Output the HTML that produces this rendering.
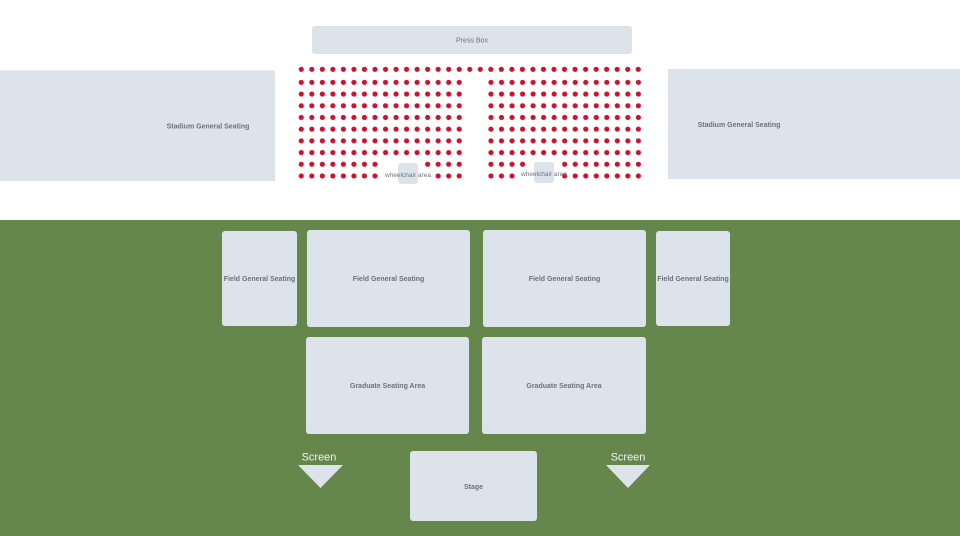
<!DOCTYPE html>
<html><head><meta charset="utf-8"><style>
html,body{margin:0;padding:0;background:#fff;}
svg{display:block;}
text{font-family:"Liberation Sans",sans-serif;}
.l{font-size:7px;fill:#6b7280;font-weight:bold;text-anchor:middle;}
.b{fill:#dce3ea;}
</style></head><body>
<svg width="960" height="536" viewBox="0 0 960 536" xmlns="http://www.w3.org/2000/svg">
<defs>
<pattern id="d" x="296" y="76.5" width="10.53" height="11.7" patternUnits="userSpaceOnUse"><circle cx="5.27" cy="5.85" r="2.6" fill="#d0102c"/></pattern>
<pattern id="d2" x="485.7" y="76.5" width="10.53" height="11.7" patternUnits="userSpaceOnUse"><circle cx="5.27" cy="5.85" r="2.6" fill="#d0102c"/></pattern>
<pattern id="t" x="296" y="64" width="10.53" height="11" patternUnits="userSpaceOnUse"><circle cx="5.27" cy="5.3" r="2.6" fill="#d0102c"/></pattern>
</defs>
<rect x="0" y="0" width="960" height="536" fill="#fff"/>
<rect class="b" x="312" y="26" width="320" height="28" rx="3"/>
<text class="l" x="472" y="42.5" style="font-weight:normal">Press Box</text>
<rect class="b" x="0" y="70.5" width="275" height="110.5"/>
<text class="l" x="208" y="128.5">Stadium General Seating</text>
<rect class="b" x="668" y="69" width="292" height="110"/>
<text class="l" x="739" y="127">Stadium General Seating</text>
<rect x="296" y="64" width="348" height="11" fill="url(#t)"/>
<rect x="296" y="76.5" width="170" height="105.3" fill="url(#d)"/>
<rect x="485.7" y="76.5" width="158" height="105.3" fill="url(#d2)"/>
<rect x="380" y="158" width="42" height="12" fill="#fff"/>
<rect x="380" y="170" width="52" height="12" fill="#fff"/>
<rect x="527" y="158" width="33" height="12" fill="#fff"/>
<rect x="517" y="170" width="43" height="12" fill="#fff"/>
<rect class="b" x="398" y="163" width="20" height="21" rx="3"/>
<rect class="b" x="534" y="162" width="20" height="21" rx="3"/>
<text x="408" y="177" style="font-size:6.5px;fill:#6b7280;text-anchor:middle">wheelchair area</text>
<text x="544" y="176" style="font-size:6.5px;fill:#6b7280;text-anchor:middle">wheelchair area</text>
<rect x="0" y="220" width="960" height="316" fill="#66874c"/>
<rect class="b" x="222" y="231" width="75" height="95" rx="3"/>
<text class="l" x="259.5" y="281">Field General Seating</text>
<rect class="b" x="307" y="230" width="163" height="97" rx="3"/>
<text class="l" x="388.5" y="281">Field General Seating</text>
<rect class="b" x="483" y="230" width="163" height="97" rx="3"/>
<text class="l" x="564.5" y="281">Field General Seating</text>
<rect class="b" x="656" y="231" width="74" height="95" rx="3"/>
<text class="l" x="693" y="281">Field General Seating</text>
<rect class="b" x="306" y="337" width="163" height="97" rx="3"/>
<text class="l" x="387.5" y="388">Graduate Seating Area</text>
<rect class="b" x="482" y="337" width="164" height="97" rx="3"/>
<text class="l" x="564" y="388">Graduate Seating Area</text>
<rect class="b" x="410" y="451" width="127" height="70" rx="3"/>
<text class="l" x="473.5" y="489">Stage</text>
<text x="319" y="460.5" style="font-size:11px;fill:#eef1f4;text-anchor:middle">Screen</text>
<polygon points="298,465 343,465 320.5,488" fill="#dce3ea"/>
<text x="628" y="460.5" style="font-size:11px;fill:#eef1f4;text-anchor:middle">Screen</text>
<polygon points="606,465 650,465 628,488" fill="#dce3ea"/>
</svg>
</body></html>
